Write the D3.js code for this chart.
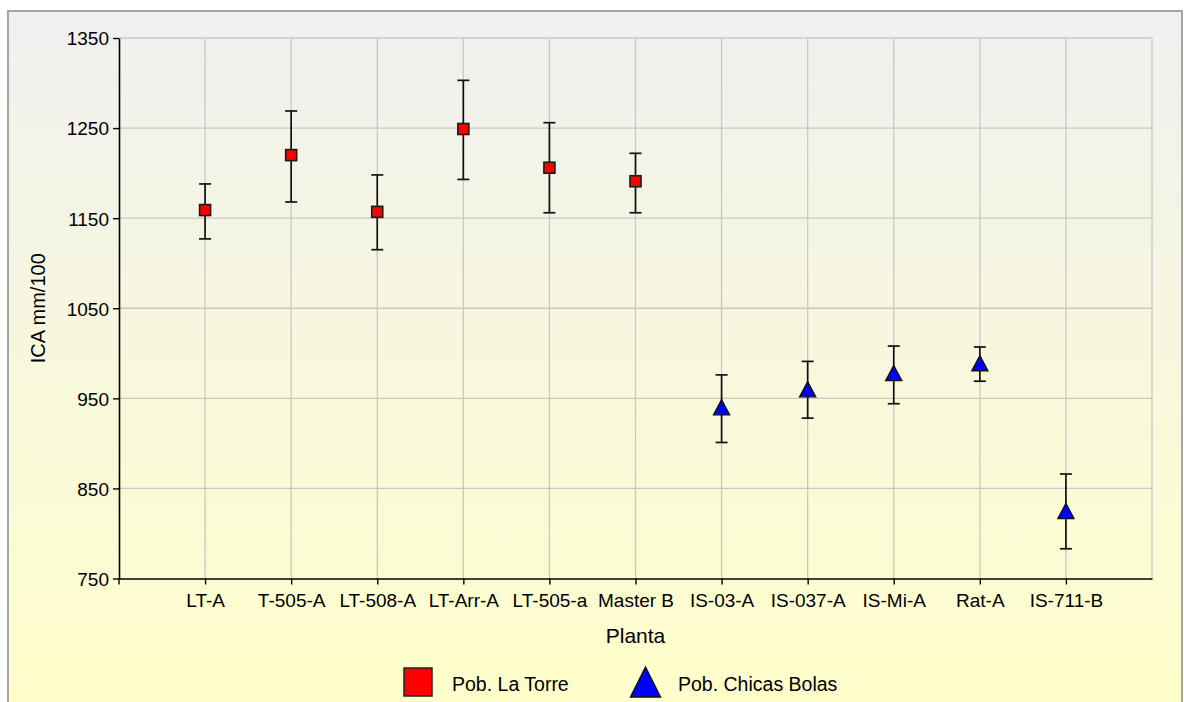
<!DOCTYPE html>
<html>
<head>
<meta charset="utf-8">
<script src="https://cdn.jsdelivr.net/npm/d3@7"></script>
<style>
  html, body { margin: 0; padding: 0; background: #ffffff; }
  svg { display: block; font-family: "Liberation Sans", Arial, sans-serif; }
</style>
</head>
<body>
<svg id="chart" width="1184" height="702"></svg>
<script>
// Plants on the x axis
const categories = ["LT-A", "T-505-A", "LT-508-A", "LT-Arr-A", "LT-505-a", "Master B",
                    "IS-03-A", "IS-037-A", "IS-Mi-A", "Rat-A", "IS-711-B"];
// Population each plant belongs to
const population = ["torre", "torre", "torre", "torre", "torre", "torre",
                    "chicas", "chicas", "chicas", "chicas", "chicas"];
// Mean ICA (mm/100) and the ends of each error bar
const meanValues = [1159, 1220, 1157, 1249, 1206, 1191, 940, 960, 978, 989, 825];
const lowValues  = [1127, 1168, 1115, 1193, 1156, 1156, 901, 928, 944, 969, 783];
const highValues = [1188, 1269, 1198, 1303, 1256, 1222, 976, 991, 1008, 1007, 866];
const yTicks = [750, 850, 950, 1050, 1150, 1250, 1350];
const seriesNames = { torre: "Pob. La Torre", chicas: "Pob. Chicas Bolas" };

const svg = d3.select("#chart");
const plot = { left: 119, right: 1152, top: 38, bottom: 578.5 };

// Background gradient of the whole chart box
const defs = svg.append("defs");
const grad = defs.append("linearGradient").attr("id", "bg")
  .attr("x1", 0).attr("y1", 0).attr("x2", 0).attr("y2", 1);
grad.append("stop").attr("offset", "0%").attr("stop-color", "#f0f0f0");
grad.append("stop").attr("offset", "100%").attr("stop-color", "#ffffcb");

svg.append("rect").attr("x", 8).attr("y", 11).attr("width", 1174).attr("height", 700)
  .attr("fill", "url(#bg)").attr("stroke", "#a5a5a5").attr("stroke-width", 2);

const x = d3.scalePoint().domain(categories).range([plot.left, plot.right]).padding(1);
const y = d3.scaleLinear().domain([750, 1350]).range([plot.bottom, plot.top]);

// Grid
const grid = svg.append("g").attr("stroke", "#c8c8c8").attr("stroke-width", 1.3);
grid.selectAll("line.h").data(yTicks.filter(v => v > 750)).join("line")
  .attr("x1", plot.left).attr("x2", plot.right)
  .attr("y1", d => y(d)).attr("y2", d => y(d));
grid.selectAll("line.v").data(categories).join("line")
  .attr("x1", d => x(d)).attr("x2", d => x(d))
  .attr("y1", plot.top).attr("y2", plot.bottom);
grid.append("line").attr("x1", plot.right).attr("x2", plot.right)
  .attr("y1", plot.top).attr("y2", plot.bottom);

// Axes
const yAxis = svg.append("g").attr("transform", `translate(${plot.left},0)`)
  .call(d3.axisLeft(y).tickValues(yTicks).tickSize(6).tickSizeOuter(0).tickPadding(4).tickFormat(d3.format("d")));
const xAxis = svg.append("g").attr("transform", `translate(0,${plot.bottom})`)
  .call(d3.axisBottom(x).tickSize(6).tickSizeOuter(0).tickPadding(9));
[yAxis, xAxis].forEach(a => {
  a.select(".domain").attr("stroke", "#000").attr("stroke-width", 1.6);
  a.selectAll(".tick line").attr("stroke", "#000").attr("stroke-width", 1.4);
  a.selectAll(".tick text").attr("fill", "#000").attr("font-size", 19)
    .attr("font-family", "Liberation Sans, Arial, sans-serif");
});
yAxis.selectAll(".tick text").attr("dy", "0.36em");
svg.append("line").attr("x1", plot.left).attr("x2", plot.left)
  .attr("y1", plot.bottom).attr("y2", plot.bottom + 6)
  .attr("stroke", "#000").attr("stroke-width", 1.4);

// Axis titles
svg.append("text").attr("x", (plot.left + plot.right) / 2).attr("y", 643)
  .attr("text-anchor", "middle").attr("font-size", 21).attr("fill", "#000").text("Planta");
svg.append("text").attr("transform", `translate(45,${(plot.top + plot.bottom) / 2}) rotate(-90)`)
  .attr("text-anchor", "middle").attr("font-size", 20).attr("fill", "#000").text("ICA mm/100");

// Error bars
const idx = d3.range(categories.length);
const bars = svg.append("g").attr("stroke", "#111").attr("stroke-width", 1.7);
bars.selectAll("line.stem").data(idx).join("line")
  .attr("x1", i => x(categories[i])).attr("x2", i => x(categories[i]))
  .attr("y1", i => y(lowValues[i])).attr("y2", i => y(highValues[i]));
bars.selectAll("line.lo").data(idx).join("line")
  .attr("x1", i => x(categories[i]) - 6).attr("x2", i => x(categories[i]) + 6)
  .attr("y1", i => y(lowValues[i])).attr("y2", i => y(lowValues[i]));
bars.selectAll("line.hi").data(idx).join("line")
  .attr("x1", i => x(categories[i]) - 6).attr("x2", i => x(categories[i]) + 6)
  .attr("y1", i => y(highValues[i])).attr("y2", i => y(highValues[i]));

// Markers
const triPath = (cx, cy, w, h) => `M${cx},${cy - h / 2}L${cx + w / 2},${cy + h / 2}L${cx - w / 2},${cy + h / 2}Z`;
const marks = svg.append("g");
marks.selectAll("rect").data(idx.filter(i => population[i] === "torre")).join("rect")
  .attr("x", i => x(categories[i]) - 5.5).attr("y", i => y(meanValues[i]) - 5.5)
  .attr("width", 11).attr("height", 11)
  .attr("fill", "#ff0000").attr("stroke", "#1a1a1a").attr("stroke-width", 1.6);
marks.selectAll("path").data(idx.filter(i => population[i] === "chicas")).join("path")
  .attr("d", i => triPath(x(categories[i]), y(meanValues[i]), 16, 15))
  .attr("fill", "#0000ff").attr("stroke", "#111").attr("stroke-width", 1.4)
  .attr("stroke-linejoin", "miter");

// Legend
const legend = svg.append("g").attr("font-size", 19.5).attr("fill", "#000");
legend.append("rect").attr("x", 404).attr("y", 668).attr("width", 28).attr("height", 28)
  .attr("fill", "#ff0000").attr("stroke", "#222").attr("stroke-width", 1.5);
legend.append("text").attr("x", 452).attr("y", 691).text(seriesNames.torre);
legend.append("path").attr("d", triPath(645.5, 682, 30, 30))
  .attr("fill", "#0000ff").attr("stroke", "#111").attr("stroke-width", 1.4);
legend.append("text").attr("x", 678).attr("y", 691).text(seriesNames.chicas);
</script>
</body>
</html>
